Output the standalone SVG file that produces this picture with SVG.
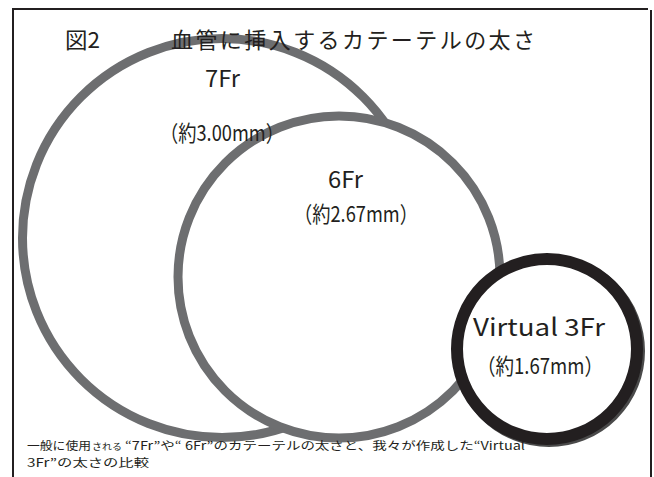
<svg xmlns="http://www.w3.org/2000/svg" width="654" height="477" viewBox="0 0 654 477">
<style>
.t{font-family:"Noto Sans CJK JP","Noto Sans",sans-serif;fill:#231f20}
.ring{fill:#fff;stroke:#6d6e70;stroke-width:9}
</style>
<rect width="654" height="477" fill="#fff"/>
<g id="frame" fill="none" stroke="#231f20" stroke-width="2">
<path d="M13,477 V9 H648"/>
<path d="M651,10 V477"/>
</g>
<g id="node-7fr">
<circle class="ring" cx="222" cy="238" r="199.5" stroke-width="8"/>
</g>
<g id="node-6fr">
<circle class="ring" cx="339" cy="277" r="161"/>
</g>
<g id="node-3fr">
<circle cx="549" cy="351" r="90" fill="none" stroke="#4a4a4a" stroke-width="12"/>
<circle cx="547" cy="349" r="90" fill="#fff" stroke="#231f20" stroke-width="12"/>
</g>
<g id="title">
<text class="t" x="65" y="48" font-size="22" textLength="35" lengthAdjust="spacingAndGlyphs">図2</text>
<text class="t" x="171" y="48" font-size="22" textLength="364" lengthAdjust="spacing">血管に挿入するカテーテルの太さ</text>
</g>
<g id="labels">
<text class="t" x="205" y="87" font-size="23" textLength="35" lengthAdjust="spacingAndGlyphs">7Fr</text>
<text class="t" x="160" y="141" font-size="22" textLength="124" lengthAdjust="spacingAndGlyphs">（約3.00mm）</text>
<text class="t" x="328" y="188" font-size="23" textLength="35" lengthAdjust="spacingAndGlyphs">6Fr</text>
<text class="t" x="294" y="222" font-size="22" textLength="124" lengthAdjust="spacingAndGlyphs">（約2.67mm）</text>
<text class="t" x="473" y="336" font-size="24" textLength="132" lengthAdjust="spacingAndGlyphs">Virtual 3Fr</text>
<text class="t" x="477" y="374" font-size="22" textLength="126" lengthAdjust="spacingAndGlyphs">（約1.67mm）</text>
</g>
<g id="caption">
<text class="t" x="27" y="450" font-size="11.5" textLength="64" lengthAdjust="spacingAndGlyphs">一般に使用</text>
<text class="t" x="92" y="450" font-size="9.5" textLength="30" lengthAdjust="spacingAndGlyphs">される</text>
<text class="t" x="125" y="450" font-size="11.5" textLength="400" lengthAdjust="spacingAndGlyphs">“7Fr”や“ 6Fr”のカテーテルの太さと、我々が作成した“Virtual</text>
<text class="t" x="27" y="467" font-size="11.5" textLength="122" lengthAdjust="spacingAndGlyphs">3Fr”の太さの比較</text>
</g>
</svg>
